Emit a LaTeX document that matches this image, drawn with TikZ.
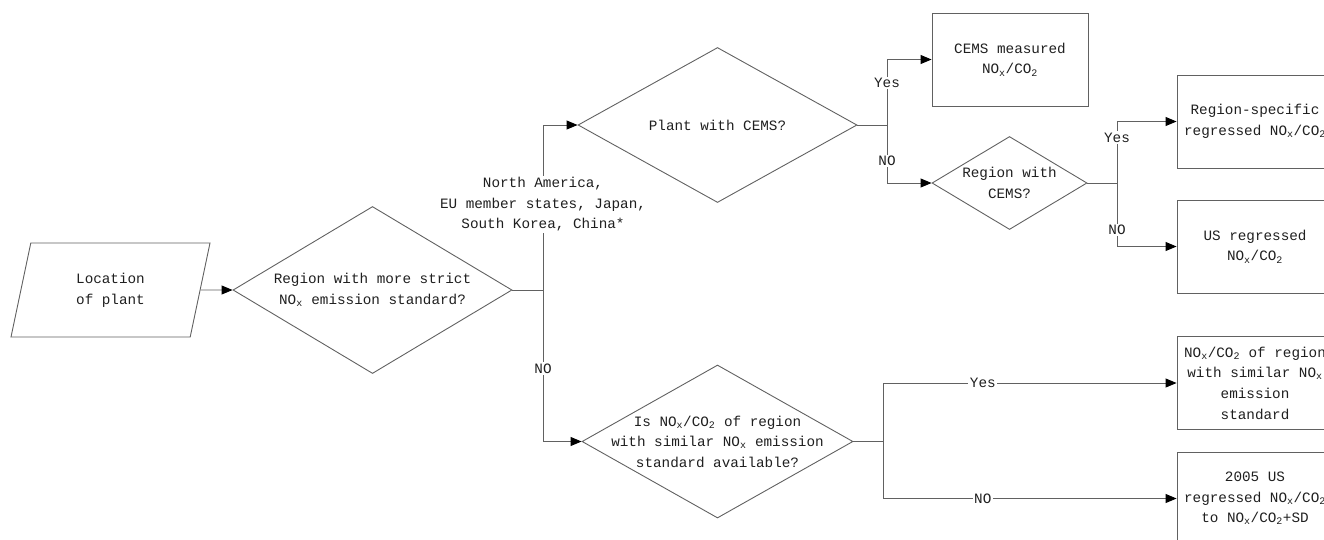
\documentclass[tikz,border=0pt]{standalone}
\usepackage{fontspec}
\setmainfont{Liberation Mono}
\usepackage{tikz}
\usetikzlibrary{arrows.meta,shapes.geometric}
\newcommand{\nox}{NO\textsubscript{x}}
\newcommand{\cotwo}{CO\textsubscript{2}}

\begin{document}
\begin{tikzpicture}[x=1pt,y=-1pt,
  font=\fontsize{14.3}{20.6}\selectfont, color=black!88, line width=0.9pt,
  b/.style={draw=black!62,minimum width=156pt,minimum height=93pt,align=center,inner sep=2pt},
  d/.style={draw=black!62,diamond,inner sep=0pt},
  t/.style={align=center},
  l/.style={fill=white,inner sep=1.5pt},
  a/.style={draw=black!62,-{Triangle[length=11pt,width=9pt,color=black]}}]
\useasboundingbox (0,0) rectangle (1324,539);
\clip (0,0) rectangle (1324,539);
\node[draw=black!62,trapezium,trapezium left angle=64,trapezium right angle=116,
  trapezium stretches body,minimum width=199pt,minimum height=94pt,align=center] (loc) at (110.5,290) {Location\\of plant};
\node[d,minimum width=279pt,minimum height=167pt,
  label={[t]center:Region with more strict\\\nox{} emission standard?}] (q1) at (372.5,290) {};
\node[d,minimum width=279pt,minimum height=155pt,
  label={[t]center:Plant with CEMS?}] (q2) at (717.5,125) {};
\node[d,minimum width=155pt,minimum height=93pt,
  label={[t]center:Region with\\CEMS?}] (q3) at (1009.5,183) {};
\node[d,minimum width=271pt,minimum height=153pt,
  label={[t]center:Is \nox/\cotwo{} of region\\with similar \nox{} emission\\standard available?}] (q4) at (717.5,441.5) {};
\node[b] (r1) at (1010,59.5) {CEMS measured\\\nox/\cotwo};
\node[b] (r2) at (1255,121.5) {Region-specific\\regressed \nox/\cotwo};
\node[b] (r3) at (1255,246.5) {US regressed\\\nox/\cotwo};
\node[b] (r4) at (1255,383) {\nox/\cotwo{} of region\\with similar \nox\\emission\\standard};
\node[b] (r5) at (1255,498.5) {2005 US\\regressed \nox/\cotwo\\to \nox/\cotwo+SD};
\coordinate (j1) at (543,290);
\coordinate (j2) at (887,125);
\coordinate (j3) at (1117,183);
\coordinate (j4) at (883,441.5);
\draw[a] (loc.east) -- (q1.west);
\draw[draw=black!62] (q1.east) -- (j1);
\draw[a] (j1) |- node[l,t,pos=0.26]{North America,\\EU member states, Japan,\\South Korea, China*} (q2.west);
\draw[a] (j1) |- node[l,pos=0.26]{NO} (q4.west);
\draw[draw=black!62] (q2.east) -- (j2);
\draw[a] (j2) |- node[l,pos=0.32]{Yes} (r1.west);
\draw[a] (j2) |- node[l,pos=0.31]{NO} (q3.west);
\draw[draw=black!62] (q3.east) -- (j3);
\draw[a] (j3) |- node[l,pos=0.37]{Yes} (r2.west);
\draw[a] (j3) |- node[l,pos=0.37]{NO} (r3.west);
\draw[draw=black!62] (q4.east) -- (j4);
\draw[a] (j4) |- node[l,pos=0.67]{Yes} (r4.west);
\draw[a] (j4) |- node[l,pos=0.67]{NO} (r5.west);
\end{tikzpicture}
\end{document}
